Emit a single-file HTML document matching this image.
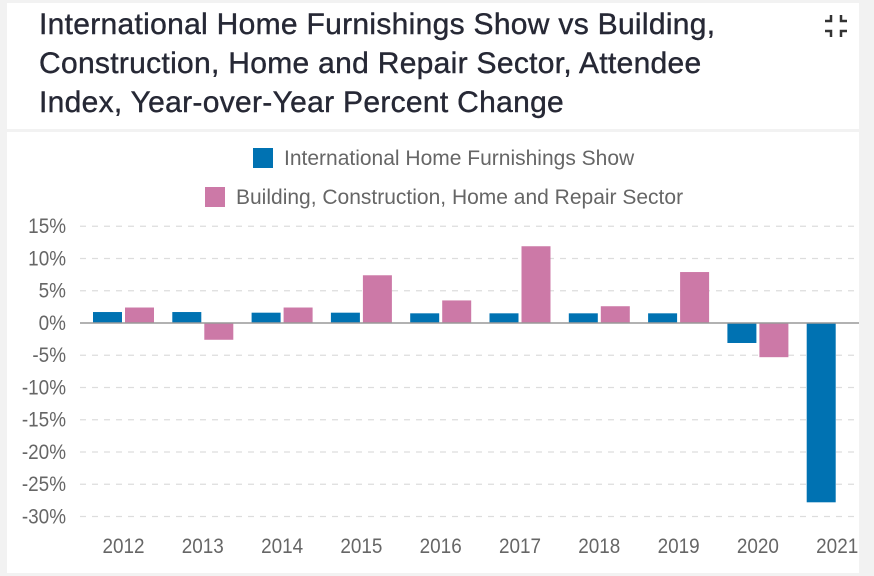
<!DOCTYPE html>
<html><head><meta charset="utf-8"><style>
body{margin:0;width:874px;height:576px;background:#f2f2f2;overflow:hidden;font-family:"Liberation Sans",sans-serif}
#hdr{position:absolute;left:7px;top:3px;width:852px;height:126px;background:#fff}
#title{position:absolute;left:32px;top:2px;font-size:30px;line-height:39px;color:#262835;letter-spacing:0.3px;-webkit-text-stroke:0.4px #262835}
#chartcard{position:absolute;left:7px;top:132px;width:852px;height:441px;background:#fff}
svg{position:absolute;left:0;top:0}
</style></head><body>
<div id="hdr">
<div id="title">International Home Furnishings Show vs Building,<br>Construction, Home and Repair Sector, Attendee<br>Index, Year-over-Year Percent Change</div>
<svg id="icon" width="26" height="26" style="left:816px;top:10px"><path d="M8 2v6H2M18 2v6h6M8 24v-6H2M18 24v-6h6" stroke="#333" stroke-width="2.5" fill="none"/></svg>
</div>
<div id="chartcard"></div>
<svg id="chart" width="874" height="576"></svg>
<script>
const categories=["2012","2013","2014","2015","2016","2017","2018","2019","2020","2021"];
const seriesNames=["International Home Furnishings Show","Building, Construction, Home and Repair Sector"];
const showValues=[1.7,1.7,1.6,1.6,1.5,1.5,1.5,1.5,-3.1,-27.8];
const sectorValues=[2.4,-2.6,2.4,7.4,3.5,11.9,2.6,7.9,-5.3,null];
const yTicks=[15,10,5,0,-5,-10,-15,-20,-25,-30];
const colors=["#0072b2","#cc79a7"];
const svg=document.getElementById('chart');
const NS="http://www.w3.org/2000/svg";
const x0=84,gw=79.3,clipR=859;
const y=v=>323-v*6.45;
function mk(t,a){const e=document.createElementNS(NS,t);for(const k in a)e.setAttribute(k,a[k]);svg.appendChild(e);return e;}
seriesNames.forEach((n,i)=>{
 const ly=[158,197][i];
 const lx=i==0?253:205;
 const r=mk('rect',{x:lx,y:ly-10,width:20,height:20,fill:colors[i]});
 
 
 const t=mk('text',{x:lx+31,y:ly+7,'font-size':21,fill:'#666'});
 t.textContent=n;
 
 
});
yTicks.forEach(v=>{
 if(v!==0){const g=mk('line',{x1:80,x2:clipR,y1:y(v),y2:y(v),stroke:'#ddd','stroke-dasharray':'6,6','stroke-width':1.2});
 
 }
 const t=mk('text',{x:66,y:y(v)+7,'font-size':21,fill:'#666','text-anchor':'end',transform:`translate(66 0) scale(0.9 1) translate(-66 0)`});
 t.textContent=v+'%';
 
 
});
[showValues,sectorValues].forEach((vals,s)=>{
 vals.forEach((v,i)=>{
  if(v===null)return;
  const bx=x0+i*gw+9+s*32;
  if(bx>=clipR)return;
  const w=Math.min(29,clipR-bx);
  const r=mk('rect',{x:bx,y:Math.min(y(v),y(0)),width:w,height:Math.abs(y(v)-y(0)),fill:colors[s]});
  
  
 });
});
const z=mk('line',{x1:80,x2:clipR,y1:y(0),y2:y(0),stroke:'#999','stroke-width':1.5});


categories.forEach((c,i)=>{
 const cx=x0+i*gw+39.5;
 const t=mk('text',{x:cx,y:553,'font-size':21,fill:'#666','text-anchor':'middle',transform:`translate(${cx} 0) scale(0.9 1) translate(${-cx} 0)`});
 t.textContent=c;
 
 
});
</script>
</body></html>
